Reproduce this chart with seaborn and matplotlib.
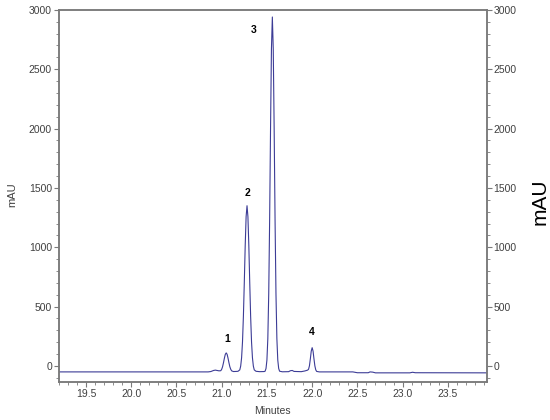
import seaborn as sns
import matplotlib.pyplot as plt
from matplotlib.ticker import MultipleLocator

# Chromatogram trace (minutes, mAU)
times = [19.20, 20.85, 20.88, 20.91, 20.93, 20.95, 20.97, 20.99, 21.00, 21.01,
         21.02, 21.03, 21.04, 21.05, 21.06, 21.07, 21.08, 21.09, 21.10, 21.11,
         21.13, 21.16, 21.18, 21.20, 21.21, 21.22, 21.23, 21.24, 21.25, 21.26,
         21.27, 21.28, 21.29, 21.30, 21.31, 21.32, 21.33, 21.34, 21.35, 21.36,
         21.38, 21.42, 21.47, 21.48, 21.49, 21.50, 21.51, 21.52, 21.53, 21.54,
         21.55, 21.56, 21.57, 21.58, 21.59, 21.60, 21.61, 21.62, 21.63, 21.64,
         21.67, 21.74, 21.76, 21.78, 21.80, 21.88, 21.92, 21.95, 21.96, 21.97,
         21.98, 21.99, 22.00, 22.01, 22.02, 22.03, 22.04, 22.05, 22.08, 22.45,
         22.50, 22.62, 22.64, 22.67, 22.70, 23.08, 23.11, 23.14, 23.93]
signal = [-50, -50, -47, -38, -35, -38, -41, -40, -28, -6,
          28, 66, 98, 110, 98, 66, 28, -6, -28, -41,
          -47, -46, -45, -33, -1, 69, 202, 418, 705, 1014,
          1258, 1350, 1258, 1014, 705, 418, 202, 69, -1, -33,
          -45, -48, -47, -44, -21, 50, 231, 609, 1227, 1999,
          2671, 2940, 2671, 1999, 1227, 609, 231, 50, -21, -44,
          -49, -48, -40, -38, -46, -48, -42, -35, -28, 1,
          60, 125, 154, 125, 60, 1, -33, -46, -50, -50,
          -57, -57, -50, -52, -58, -58, -53, -57, -58]

peak_labels = ["1", "2", "3", "4"]
peak_label_x = [21.06, 21.29, 21.35, 22.00]
peak_label_y = [225, 1460, 2830, 290]

sns.set_theme(style="ticks")
plt.rcParams["font.family"] = ["Liberation Sans", "DejaVu Sans"]

fig = plt.figure(figsize=(5.5, 4.2), dpi=100)
ax = fig.add_axes([0.107, 0.0905, 0.778, 0.886])
sns.lineplot(x=times, y=signal, ax=ax, color="#3c3c96", linewidth=0.8)

for lab, px, py in zip(peak_labels, peak_label_x, peak_label_y):
    ax.text(px, py, lab, fontsize=7.5, fontweight="bold", ha="center", va="center", color="black")

ax.set_xlim(19.2, 23.93)
ax.set_ylim(-135, 3000)
ax.xaxis.set_major_locator(MultipleLocator(0.5))
ax.xaxis.set_minor_locator(MultipleLocator(0.1))
ax.yaxis.set_major_locator(MultipleLocator(500))
ax.yaxis.set_minor_locator(MultipleLocator(100))
ax.xaxis.set_major_formatter(plt.FormatStrFormatter("%.1f"))

ax2 = ax.twinx()
ax2.set_ylim(ax.get_ylim())
ax2.yaxis.set_major_locator(MultipleLocator(500))
ax2.yaxis.set_minor_locator(MultipleLocator(100))

for a in (ax, ax2):
    for s in a.spines.values():
        s.set_visible(True)
        s.set_color("#7a7a7a")
        s.set_linewidth(1.1)
    a.tick_params(which="major", length=3.5, width=0.8, color="#7a7a7a",
                  labelsize=7.5, labelcolor="#404040", pad=1.5)
    a.tick_params(which="minor", length=2, width=0.6, color="#7a7a7a")

ax.set_xlabel("Minutes", fontsize=7.5, color="#404040", labelpad=5)
fig.text(12 / 550, 1 - 195 / 420, "mAU", rotation=90, fontsize=8,
         color="#404040", ha="center", va="center")
fig.text(540 / 550, 1 - 202 / 420, "mAU", rotation=90, fontsize=15,
         color="black", ha="center", va="center")

fig.savefig("out.png", dpi=100)
